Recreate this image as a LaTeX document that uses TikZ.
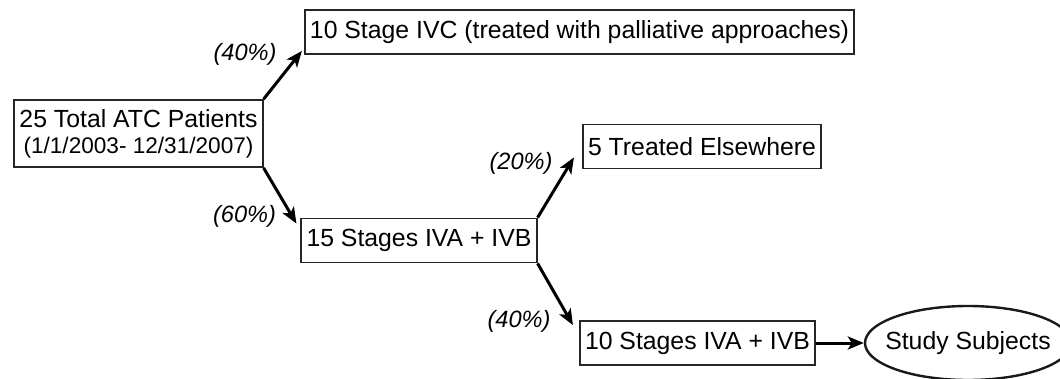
\documentclass[tikz,border=0pt]{standalone}
\usepackage{fontspec}
\setmainfont{Liberation Sans}
\usetikzlibrary{arrows.meta,calc,shapes.geometric}

\begin{document}
\begin{tikzpicture}[
    x=0.5pt, y=-0.5pt,
    ptBox/.style={rectangle, draw=black!85, line width=0.9pt, inner xsep=2.6pt, inner ysep=0pt, minimum height=22pt, font=\fontsize{12.4}{14}\selectfont},
    ptOval/.style={ellipse, draw=black!90, line width=1.2pt, minimum width=103pt, minimum height=37pt, inner xsep=-6pt, inner ysep=0pt, font=\fontsize{12.4}{14}\selectfont},
    ptPct/.style={anchor=east, inner sep=0pt, font=\fontsize{11.8}{14}\selectfont\itshape},
    ptArrow/.style={-{Stealth[length=8pt,width=6.5pt,inset=2pt]}, line width=1.5pt}
]
\useasboundingbox (0,0) rectangle (1060,379);
\clip (0,0) rectangle (1060,379);

\node[ptBox, minimum height=33.5pt, align=center] (total) at (138.5,133.5)
    {25 Total ATC Patients\\[-1pt]{\fontsize{11.3}{14}\selectfont (1/1/2003- 12/31/2007)}};
\node[ptBox] (ivc) at (579.5,32) {10 Stage IVC (treated with palliative approaches)};
\node[ptBox] (stg15) at (419,240.5) {15 Stages IVA + IVB};
\node[ptBox] (elsewhere) at (702,146.5) {5 Treated Elsewhere};
\node[ptBox] (stg10) at (697.5,343) {10 Stages IVA + IVB};
\node[ptOval] (study) at (968,343) {Study Subjects};

% branches
\draw[ptArrow] (total.north east) -- ($(ivc.south west)+(-2,-4)$);
\draw[ptArrow] (total.south east) -- ($(stg15.north west)+(-4,6)$);
\draw[ptArrow] (stg15.north east) -- ($(elsewhere.south west)+(-8,-12)$);
\draw[ptArrow] (stg15.south east) -- ($(stg10.north west)+(-6,5)$);
\draw[ptArrow] (stg10.east) -- (study.west);

% shares
\node[ptPct] (pctIvc) at ($(ivc.south west)+(-27,-1)$) {(40\%)};
\node[ptPct] (pctStg15) at ($(stg15.north west)+(-24,-1)$) {(60\%)};
\node[ptPct] (pctElse) at ($(elsewhere.south west)+(-29,-6)$) {(20\%)};
\node[ptPct] (pctStg10) at ($(stg10.north west)+(-28,1)$) {(40\%)};
\end{tikzpicture}
\end{document}
